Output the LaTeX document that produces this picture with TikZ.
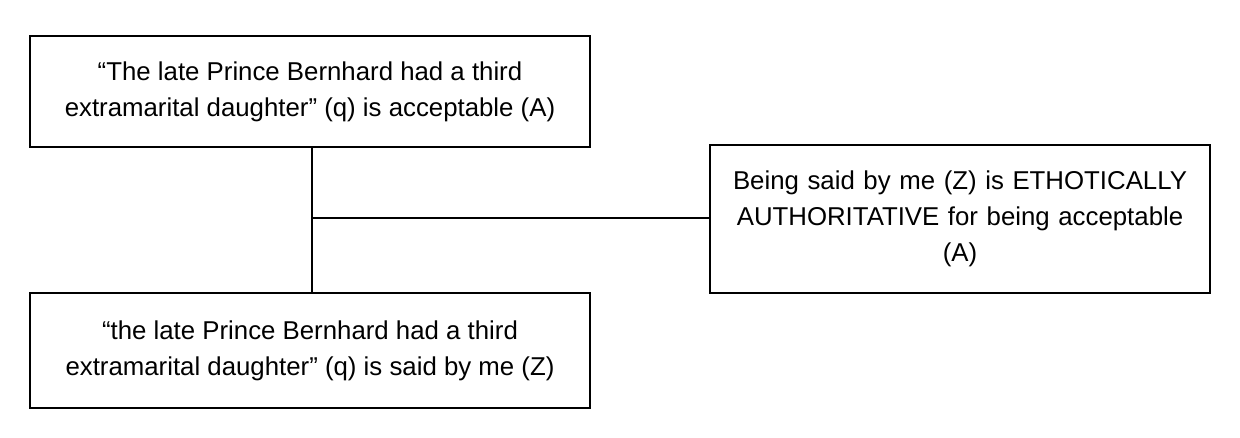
\documentclass[tikz,border=0pt]{standalone}
\usepackage{fontspec}
\setmainfont{Liberation Sans}
\begin{document}
\begin{tikzpicture}[x=1pt,y=1pt,
  box/.style={draw,line width=1.3pt,inner sep=0pt,align=center,font=\fontsize{25.8}{36}\selectfont},
  ln/.style={line width=1.3pt}]
\useasboundingbox (0,0) rectangle (1240,438);
\node[box,minimum width=560,minimum height=111] (a) at (310,346.5) {“The late Prince Bernhard had a third\\extramarital daughter” (q) is acceptable (A)};
\node[box,minimum width=560,minimum height=115] (b) at (310,87.5) {“the late Prince Bernhard had a third\\extramarital daughter” (q) is said by me (Z)};
\node[box,minimum width=500,minimum height=148,text width=480] (c) at (960,219) {Being said by me (Z) is ETHOTICALLY\\AUTHORITATIVE for being acceptable\\(A)};
\coordinate (j) at (312,220);
\draw[ln] (a.south -| j) -- (b.north -| j);
\draw[ln] (j) -- (c.west |- j);
\end{tikzpicture}
\end{document}
